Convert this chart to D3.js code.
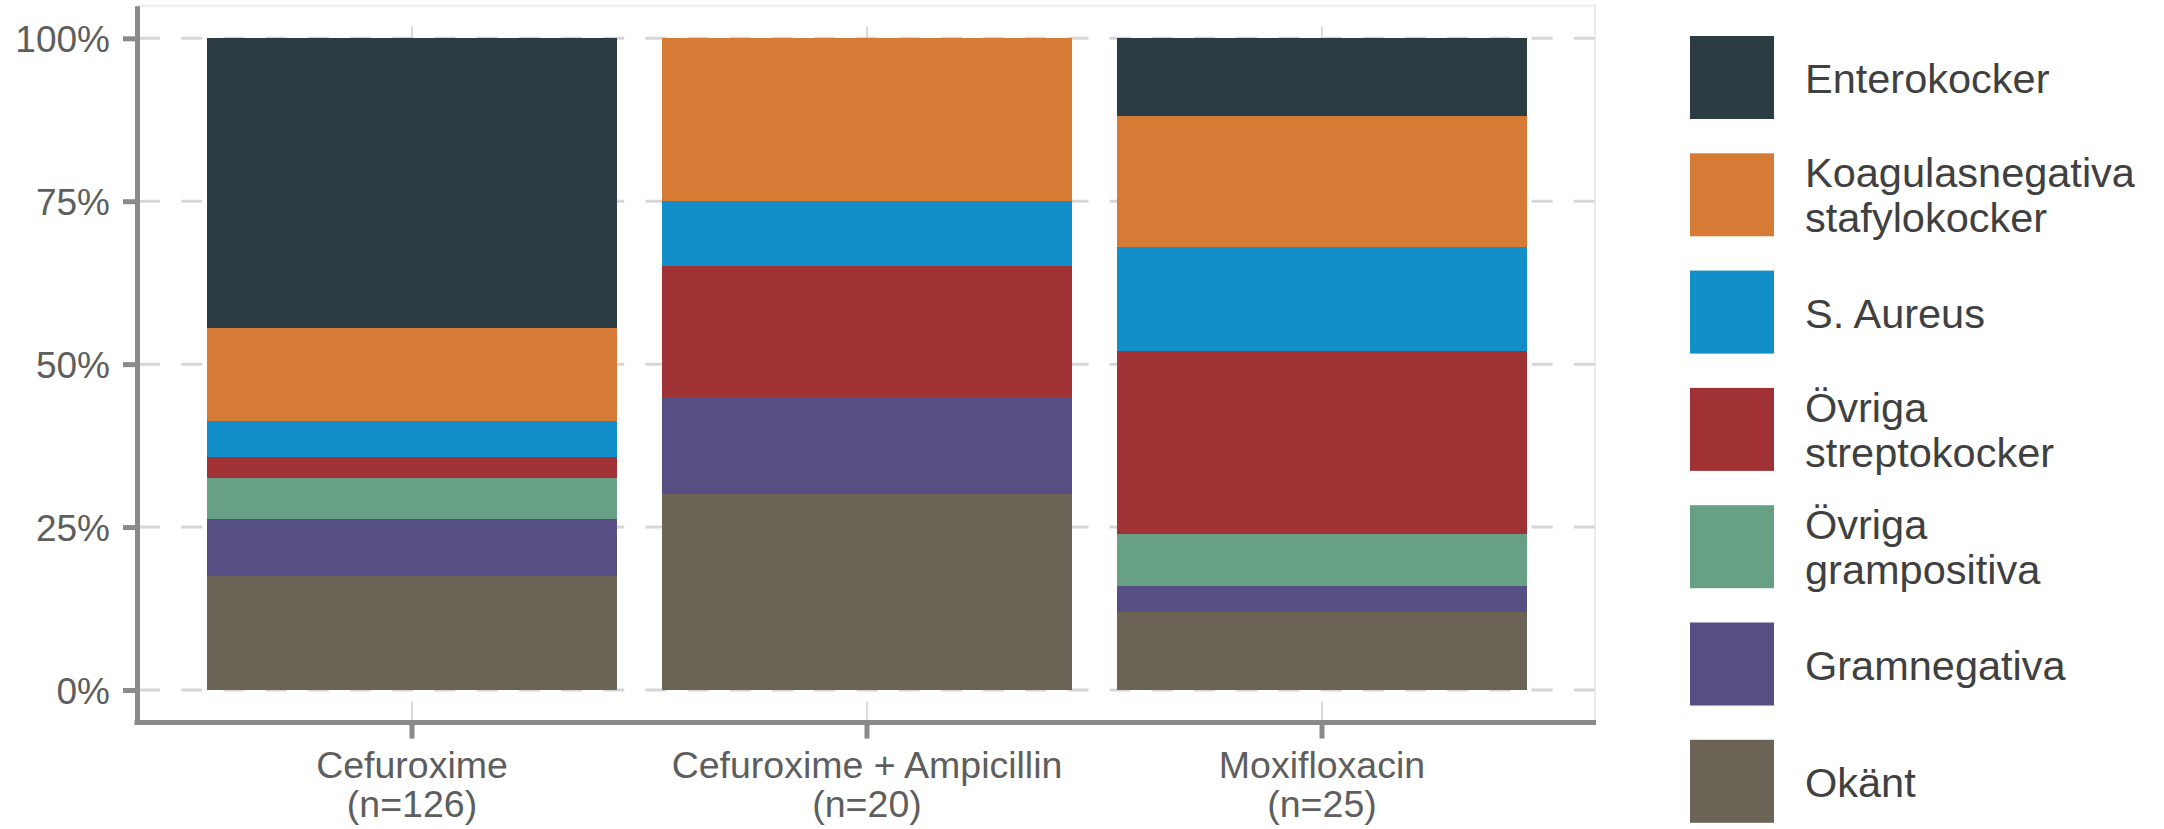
<!DOCTYPE html>
<html>
<head>
<meta charset="utf-8">
<script src="https://cdn.jsdelivr.net/npm/d3@7"></script>
<style>
  html, body { margin: 0; padding: 0; background: #ffffff; }
  svg { display: block; }
  text { font-family: "Liberation Sans", Arial, Helvetica, sans-serif; }
</style>
</head>
<body>
<svg id="chart" width="2164" height="829"></svg>
<script>
// ---------- data ----------
const categories = ["Cefuroxime", "Cefuroxime + Ampicillin", "Moxifloxacin"];
const categoryN = [126, 20, 25];
// series listed from bottom of stack to top
const seriesNames = ["Okänt", "Gramnegativa", "Övriga grampositiva", "Övriga streptokocker", "S. Aureus", "Koagulasnegativa stafylokocker", "Enterokocker"];
const seriesLegendLines = [["Okänt"], ["Gramnegativa"], ["Övriga", "grampositiva"], ["Övriga", "streptokocker"], ["S. Aureus"], ["Koagulasnegativa", "stafylokocker"], ["Enterokocker"]];
const seriesColors = ["#6b6456", "#564f84", "#68a085", "#a03236", "#128fc9", "#d57b35", "#2b3c43"];
// counts per category (Cefuroxime, Cef+Amp, Moxifloxacin)
const okant        = [22, 6, 3];
const gramnegativa = [11, 3, 1];
const grampositiva = [8, 0, 2];
const streptokocker= [4, 4, 7];
const sAureus      = [7, 2, 4];
const koagulas     = [18, 5, 5];
const enterokocker = [56, 0, 3];
const yTicks = [0, 0.25, 0.5, 0.75, 1];

const seriesValues = [okant, gramnegativa, grampositiva, streptokocker, sAureus, koagulas, enterokocker];
const table = categories.map((c, i) => {
  const row = { category: c };
  seriesNames.forEach((s, j) => row[s] = seriesValues[j][i]);
  return row;
});

// ---------- layout ----------
const panel = { left: 139, right: 1595, top: 5.7, bottom: 722.6 };
const svg = d3.select("#chart");

const x = d3.scaleBand().domain(categories).range([panel.left, panel.right])
  .paddingInner(0.1).paddingOuter(0.15);
const y = d3.scaleLinear().domain([-0.05, 1.05]).range([panel.bottom, panel.top]);
const color = d3.scaleOrdinal().domain(seriesNames).range(seriesColors);

const stacked = d3.stack().keys(seriesNames).offset(d3.stackOffsetExpand)(table);

// panel border
svg.append("rect")
  .attr("x", panel.left).attr("y", panel.top)
  .attr("width", panel.right - panel.left).attr("height", panel.bottom - panel.top)
  .attr("fill", "none").attr("stroke", "#ebebeb").attr("stroke-width", 2);

// grid lines
const grid = svg.append("g");
grid.selectAll("line.h").data(yTicks).join("line")
  .attr("x1", panel.left).attr("x2", panel.right)
  .attr("y1", d => y(d)).attr("y2", d => y(d))
  .attr("stroke", "#d6d6d6").attr("stroke-width", 3)
  .attr("stroke-dasharray", "21.1,21.1");
grid.selectAll("line.v").data(categories).join("line")
  .attr("x1", d => x(d) + x.bandwidth() / 2).attr("x2", d => x(d) + x.bandwidth() / 2)
  .attr("y1", panel.bottom).attr("y2", panel.top)
  .attr("stroke", "#d0d0d0").attr("stroke-width", 1.5)
  .attr("stroke-dasharray", "21.1,21.1");

// bars
svg.append("g").selectAll("g").data(stacked).join("g")
  .attr("fill", d => color(d.key))
  .selectAll("rect").data(d => d).join("rect")
  .attr("x", d => x(d.data.category))
  .attr("width", x.bandwidth())
  .attr("y", d => y(d[1]))
  .attr("height", d => y(d[0]) - y(d[1]))
  .attr("shape-rendering", "crispEdges");

// axes
const axisColor = "#8a8a8a";
const textColor = "#5e5e5e";

const yAxis = svg.append("g").attr("transform", `translate(${panel.left - 2},0)`)
  .call(d3.axisLeft(y).tickValues(yTicks).tickFormat(d3.format(".0%")).tickSize(14).tickPadding(13).tickSizeOuter(0));
yAxis.select(".domain").attr("stroke", axisColor).attr("stroke-width", 5);
yAxis.selectAll(".tick line").attr("stroke", axisColor).attr("stroke-width", 5);
yAxis.selectAll(".tick text")
  .attr("fill", textColor).attr("font-size", 37)
  .attr("font-family", "'Liberation Sans', Arial, sans-serif")
  .attr("dy", "0.36em");

const xAxis = svg.append("g").attr("transform", `translate(0,${panel.bottom})`)
  .call(d3.axisBottom(x).tickSize(16).tickSizeOuter(0).tickFormat(""));
xAxis.select(".domain").attr("stroke", axisColor).attr("stroke-width", 5)
  .attr("d", `M${panel.left - 4.5},0H${panel.right + 1}`);
xAxis.selectAll(".tick line").attr("stroke", axisColor).attr("stroke-width", 5);
xAxis.selectAll(".tick").append("text")
  .attr("fill", textColor).attr("font-size", 37.5).attr("text-anchor", "middle")
  .selectAll("tspan").data((d, i) => [d, `(n=${categoryN[i]})`]).join("tspan")
  .attr("x", 0).attr("y", (d, i) => 55.5 + i * 38.5)
  .text(d => d);

// legend (top to bottom: reverse of stack order)
const legendOrder = d3.range(seriesNames.length).reverse();
const legend = svg.append("g");
const items = legend.selectAll("g").data(legendOrder).join("g")
  .attr("transform", (d, i) => `translate(1690,${36 + i * 117.3})`);
items.append("rect")
  .attr("width", 84).attr("height", 83)
  .attr("fill", d => seriesColors[d]);
items.append("text")
  .attr("fill", "#404040").attr("font-size", 41.5)
  .selectAll("tspan").data(d => seriesLegendLines[d].map((t, k, arr) => ({ t, k, n: arr.length }))).join("tspan")
  .attr("x", 115)
  .attr("y", d => d.n === 1 ? 41.5 + 15.5 : 41.5 - 7.5 + d.k * 45)
  .text(d => d.t);
</script>
</body>
</html>
